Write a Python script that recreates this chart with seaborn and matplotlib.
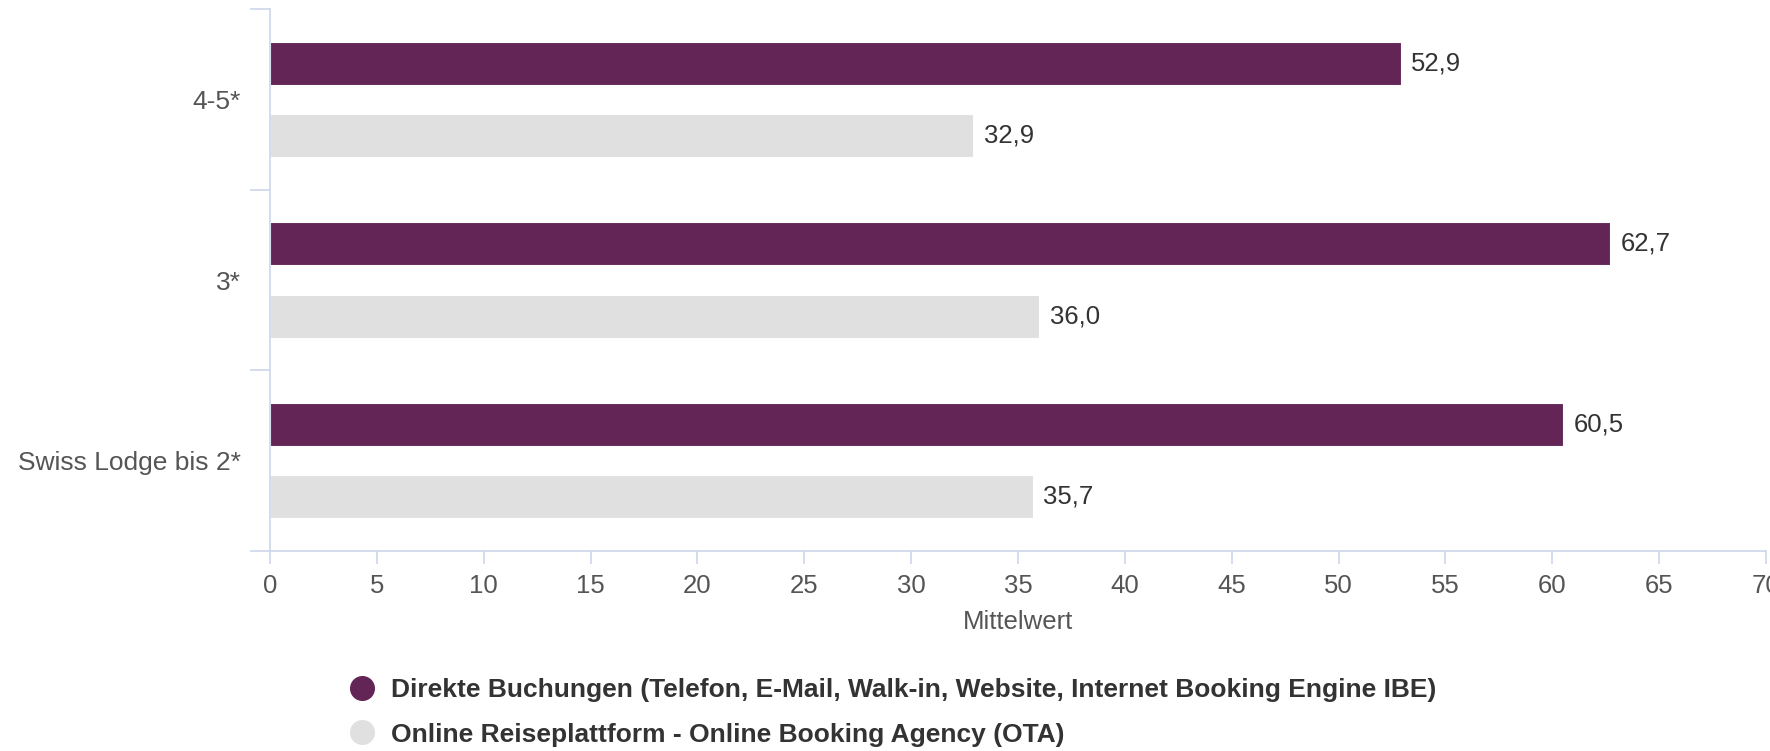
import matplotlib
matplotlib.use("Agg")
import matplotlib.pyplot as plt
from matplotlib.lines import Line2D
from matplotlib.ticker import FixedLocator
import seaborn as sns
import pandas as pd

# Mean values per hotel category and booking channel
categories = ["4-5*", "3*", "Swiss Lodge bis 2*"]
series_names = [
    "Direkte Buchungen (Telefon, E-Mail, Walk-in, Website, Internet Booking Engine IBE)",
    "Online Reiseplattform - Online Booking Agency (OTA)",
]
direct_values = [52.9, 62.7, 60.5]
ota_values = [32.9, 36.0, 35.7]
x_ticks = list(range(0, 75, 5))
x_label = "Mittelwert"

colors = {series_names[0]: "#632456", series_names[1]: "#e0e0e0"}
axis_color = "#ccd6eb"

df = pd.DataFrame({
    "Kategorie": categories * 2,
    "Kanal": [series_names[0]] * len(categories) + [series_names[1]] * len(categories),
    "Wert": direct_values + ota_values,
})

sns.set_theme(style="white")
plt.rcParams["font.family"] = ["Liberation Sans", "DejaVu Sans"]

fig = plt.figure(figsize=(17.70, 7.51), dpi=100)
ax = fig.add_axes([270 / 1770, 1 - 551 / 751, 1496 / 1770, 542 / 751])

sns.barplot(
    data=df, y="Kategorie", x="Wert", hue="Kanal", order=categories,
    hue_order=series_names, palette=colors, orient="h", width=0.8,
    gap=0.40625, saturation=1, legend=False, ax=ax,
    edgecolor="white", linewidth=0.8,
)

# Value labels with German decimal comma
for container in ax.containers:
    vals = container.datavalues
    ax.bar_label(container, labels=[f"{v:.1f}".replace(".", ",") for v in vals],
                 padding=7.5, fontsize=18.5, color="#333333")

ax.set_xlim(0, 70)
ax.set_ylim(2.5, -0.5)
ax.xaxis.set_major_locator(FixedLocator(x_ticks))
ax.set_xlabel(x_label, fontsize=18.5, color="#555555", labelpad=9)
ax.set_ylabel("")

for side in ["top", "right"]:
    ax.spines[side].set_visible(False)
for side in ["left", "bottom"]:
    ax.spines[side].set_color(axis_color)
    ax.spines[side].set_linewidth(1.2)

ax.tick_params(axis="x", which="major", direction="out", length=9.5, width=1.2,
               color=axis_color, labelsize=18.5, labelcolor="#555555", pad=7,
               bottom=True)
ax.tick_params(axis="y", which="major", length=0, labelsize=19,
               labelcolor="#555555", pad=21)
ax.yaxis.set_minor_locator(FixedLocator([-0.5, 0.5, 1.5, 2.5]))
ax.tick_params(axis="y", which="minor", direction="out", length=14.5, width=1.2,
               color=axis_color, left=True)

handles = [
    Line2D([0], [0], marker="o", linestyle="", markersize=17,
           markerfacecolor=colors[name], markeredgecolor=colors[name])
    for name in series_names
]
fig.legend(handles, series_names, loc="upper left",
           bbox_to_anchor=(349 / 1770, 1 - 678 / 751), frameon=False,
           prop={"size": 19, "weight": "bold"}, labelcolor="#333333",
           handlelength=1.0, handletextpad=0.6, labelspacing=0.78,
           borderaxespad=0, borderpad=0)

fig.savefig("out.png", dpi=100)
